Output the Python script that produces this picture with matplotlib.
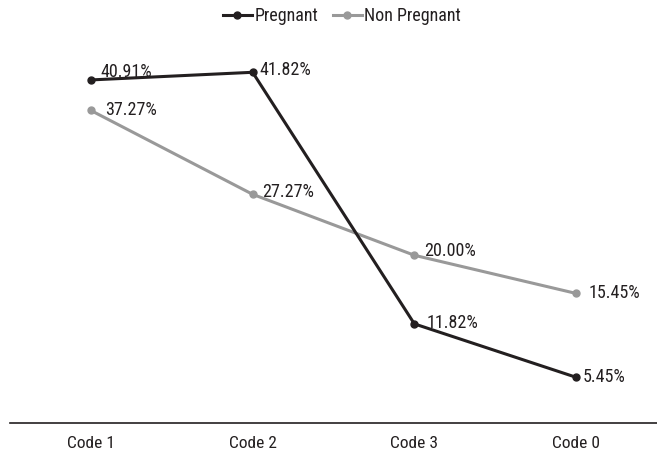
import matplotlib
matplotlib.use("Agg")
import matplotlib.pyplot as plt

plt.rcParams["font.family"] = ["Roboto Condensed", "Archivo Narrow", "DejaVu Sans"]

categories = ["Code 1", "Code 2", "Code 3", "Code 0"]
pregnant = [40.91, 41.82, 11.82, 5.45]
non_pregnant = [37.27, 27.27, 20.00, 15.45]

# label offsets in points (dx, dy), just for placement
preg_off = [(7, 6), (5, 1.5), (9, 0.5), (5, 0)]
nonp_off = [(10, 0), (6.5, 1.5), (7, 3), (9, 0.5)]

dark = "#231f20"
grey = "#999999"

fig = plt.figure(figsize=(6.57, 4.53), dpi=100)
ax = fig.add_axes([10 / 657, 30 / 453, 647 / 657, 419.3 / 453])

x = range(len(categories))
ax.plot(x, pregnant, "o-", color=dark, lw=2.2, ms=5, label="Pregnant", zorder=3)
ax.plot(x, non_pregnant, "o-", color=grey, lw=2.2, ms=5, label="Non Pregnant", zorder=2)

for i, v in enumerate(pregnant):
    ax.annotate(f"{v:.2f}%", (i, v), xytext=preg_off[i], textcoords="offset points",
                ha="left", va="center", fontsize=13, color=dark, zorder=4)
for i, v in enumerate(non_pregnant):
    ax.annotate(f"{v:.2f}%", (i, v), xytext=nonp_off[i], textcoords="offset points",
                ha="left", va="center", fontsize=13, color=dark, zorder=4)

ax.set_xlim(-0.5, 3.5)
ax.set_ylim(0, 50)
ax.set_xticks(list(x))
ax.set_xticklabels(categories, fontsize=12.5, color=dark)
ax.tick_params(axis="x", length=0, pad=9)
ax.set_yticks([])
for s in ["top", "right", "left"]:
    ax.spines[s].set_visible(False)
ax.spines["bottom"].set_color(dark)
ax.spines["bottom"].set_linewidth(1.2)

leg = ax.legend(loc="center", bbox_to_anchor=(0.513, 0.971), ncol=2, frameon=False,
                fontsize=13, handlelength=1.6, handletextpad=0.15, columnspacing=0.8,
                borderpad=0)
for t in leg.get_texts():
    t.set_color(dark)

fig.savefig("out.png", dpi=100)
